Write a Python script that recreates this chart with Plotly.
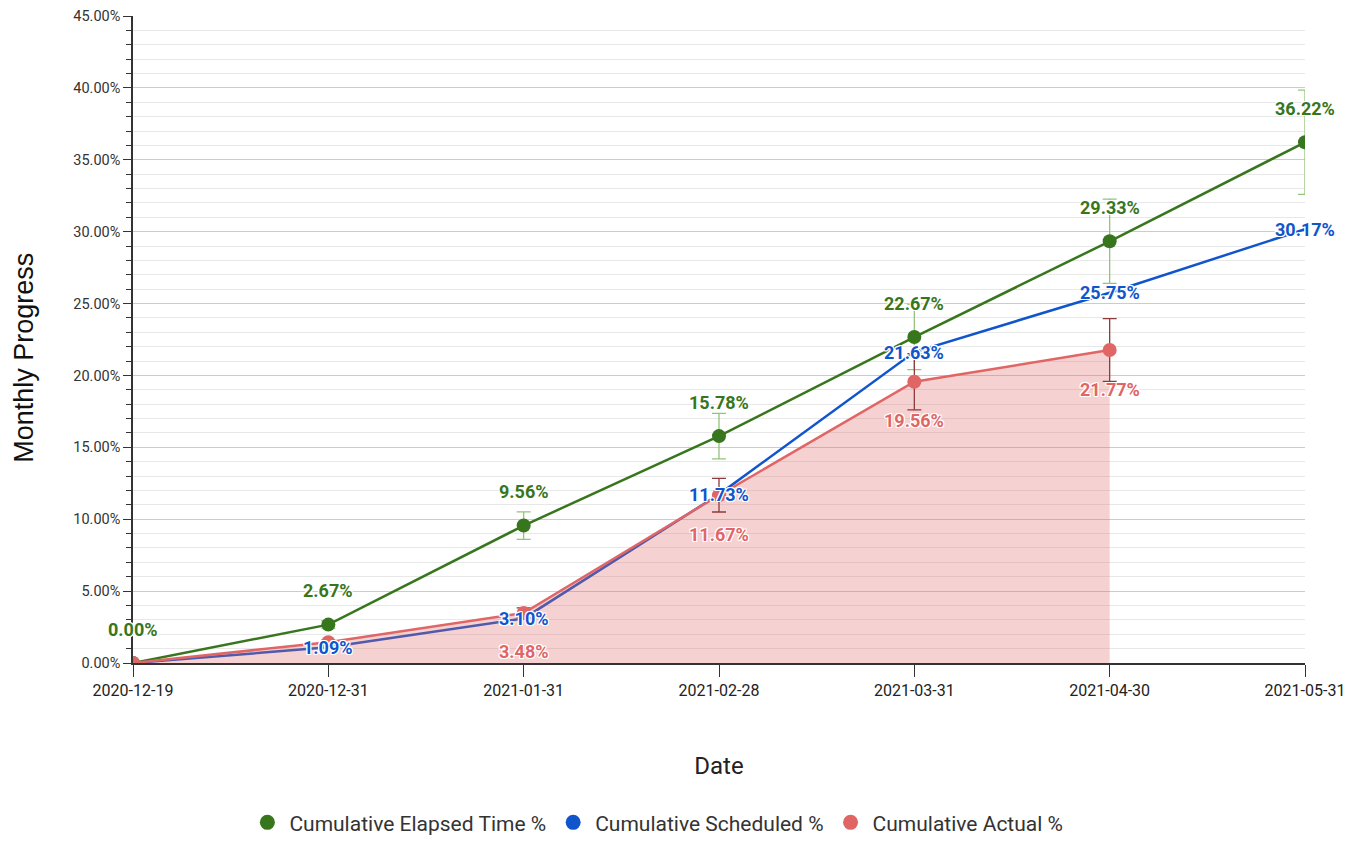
import plotly.graph_objects as go

dates = ['2020-12-19', '2020-12-31', '2021-01-31', '2021-02-28', '2021-03-31', '2021-04-30', '2021-05-31']
elapsed = [0.00, 2.67, 9.56, 15.78, 22.67, 29.33, 36.22]
scheduled = [0.00, 1.09, 3.10, 11.73, 21.63, 25.75, 30.17]
actual = [0.00, 1.45, 3.48, 11.67, 19.56, 21.77, None]

elapsed_show = [True, True, True, True, True, True, True]
scheduled_show = [False, True, True, True, True, True, True]
actual_show = [False, False, True, True, True, True, False]

names = ['Cumulative Elapsed Time %', 'Cumulative Scheduled %', 'Cumulative Actual %']
GREEN, BLUE, RED = '#38761d', '#1155cc', '#e06666'

fig = go.Figure()

fig.add_trace(go.Scatter(
    x=dates, y=elapsed, mode='lines+markers', name=names[0], showlegend=False,
    line=dict(color=GREEN, width=2.5), marker=dict(size=14, color=GREEN),
    error_y=dict(type='percent', value=10, color='#93c47d', thickness=1.3, width=7)))
fig.add_trace(go.Scatter(
    x=dates, y=scheduled, mode='lines', name=names[1], showlegend=False,
    line=dict(color=BLUE, width=2.5)))
fig.add_trace(go.Scatter(
    x=dates, y=actual, mode='lines+markers', name=names[2], showlegend=False,
    line=dict(color=RED, width=2.5), marker=dict(size=14, color=RED),
    fill='tozeroy', fillcolor='rgba(224,102,102,0.3)',
    error_y=dict(type='percent', value=10, color='#8e3b3b', thickness=1.3, width=7)))

for nm, col in zip(names, [GREEN, BLUE, RED]):
    fig.add_trace(go.Scatter(x=[None], y=[None], mode='markers', name=nm,
                             marker=dict(size=15, color=col)))

shadow = '1px 1px 0 #fff, -1px -1px 0 #fff, 1px -1px 0 #fff, -1px 1px 0 #fff, 0 1px 0 #fff, 0 -1px 0 #fff, 1px 0 0 #fff, -1px 0 0 #fff'
annotations = []
for vals, show, col, ys in [(elapsed, elapsed_show, GREEN, 34),
                            (scheduled, scheduled_show, BLUE, 0),
                            (actual, actual_show, RED, -39)]:
    for i, (d, v) in enumerate(zip(dates, vals)):
        if v is None or not show[i]:
            continue
        annotations.append(dict(
            x=i, y=v, xref='x', yref='y', text=f'{v:.2f}%', showarrow=False,
            yshift=ys, font=dict(family='Roboto', size=18, color=col, weight='bold', shadow=shadow)))

annotations.append(dict(
    text='Monthly Progress', xref='paper', yref='paper', x=-0.0925, y=0.471,
    xanchor='center', yanchor='middle', textangle=-90, showarrow=False, borderpad=0,
    font=dict(family='Liberation Sans', size=27, color='#111')))

fig.update_layout(
    width=1345, height=829,
    margin=dict(l=125, r=48, t=8, b=174, autoexpand=False),
    paper_bgcolor='white', plot_bgcolor='white',
    annotations=annotations,
    legend=dict(orientation='h', x=0.447, xanchor='center', y=-0.2785, yanchor='bottom',
                font=dict(family='Roboto', size=21, color='#333'), itemwidth=34,
                bgcolor='rgba(0,0,0,0)'),
    xaxis=dict(
        type='category', range=[0, 6], showgrid=False, automargin=False,
        showline=True, linecolor='#333', linewidth=1.5,
        ticks='outside', ticklen=12, tickcolor='#333',
        tickfont=dict(family='Roboto', size=16, color='#222'),
        title=dict(text='Date', font=dict(family='Roboto', size=24, color='#222'), standoff=58)),
    yaxis=dict(
        range=[0, 45], dtick=5, tickformat='.2f', ticksuffix='%', automargin=False,
        showgrid=True, gridcolor='#cccccc', gridwidth=1,
        showline=True, linecolor='#333', linewidth=1.5, zeroline=False,
        ticks='outside', ticklen=8, tickcolor='#333',
        minor=dict(dtick=1, showgrid=True, gridcolor='#e8e8e8', ticks='outside', ticklen=5, tickcolor='#333'),
        tickfont=dict(family='Roboto', size=14.5, color='#333')),
)

fig.write_html('out.html')
